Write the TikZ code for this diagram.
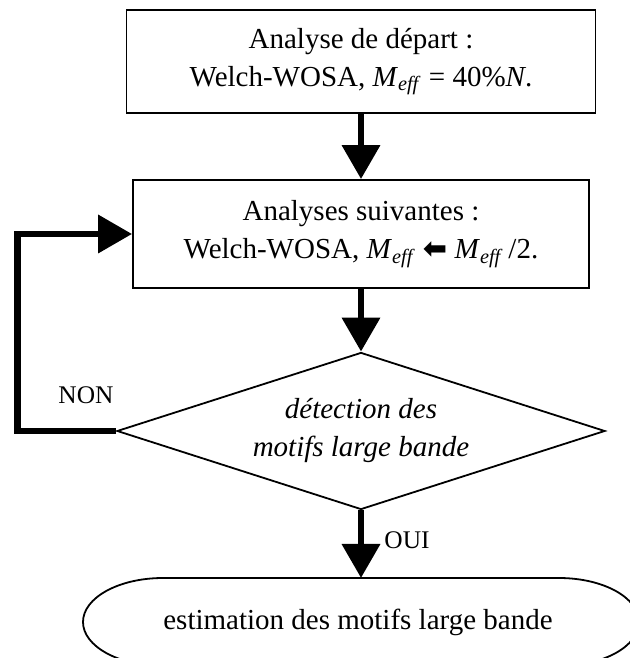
\documentclass[tikz,border=0pt]{standalone}
\usepackage{fontspec}
\setmainfont{Liberation Serif}
\newfontfamily\arrowfont{DejaVu Sans}
\usepackage{tikz}
\usetikzlibrary{arrows.meta,shapes.geometric}
\newcommand{\Meff}{\textit{M}\textsubscript{\textit{eff}}}

\begin{document}
\begin{tikzpicture}[x=0.5pt, y=0.5pt, >={Triangle[length=17pt,width=18.5pt]},
    txt/.style={font=\fontsize{14.5}{19}\selectfont, align=center},
    boite/.style={txt, draw, line width=0.9pt, inner sep=0pt},
    fleche/.style={->, line width=3.4pt},
    etiq/.style={font=\fontsize{12.7}{15}\selectfont}]
  \clip (0,0) rectangle (630,658);
  \node[boite, minimum width=234.5pt, minimum height=51.5pt] (depart) at (361,596.5)
        {Analyse de départ :\\ Welch-WOSA, \Meff{} = 40\%\textit{N}.};
  \node[boite, minimum width=228pt, minimum height=54pt] (suivante) at (361,424)
        {Analyses suivantes :\\ Welch-WOSA, \Meff{} {\arrowfont\bfseries ⬅} \Meff\,/2.};
  \node[txt, draw, diamond, aspect=3.1, line width=0.9pt, inner sep=0pt,
        minimum width=244pt, minimum height=78.5pt,
        font=\fontsize{14.5}{19}\selectfont\itshape] (detect) at (361,227)
        {détection des\\ motifs large bande};
  \node[txt, minimum width=198pt, minimum height=44pt, inner sep=0pt, outer sep=0pt]
        (estim) at (358,36) {estimation des motifs large bande};
  \draw[line width=0.9pt] ([xshift=1.5pt]estim.north west) -- ([xshift=1.5pt]estim.north east)
        arc[start angle=90, end angle=-90, x radius=40pt, y radius=22pt]
        -- ([xshift=1.5pt]estim.south west)
        arc[start angle=270, end angle=90, x radius=40pt, y radius=22pt] -- cycle;
  % connecteurs
  \draw[fleche] (depart.south) -- (suivante.north);
  \draw[fleche] (suivante.south) -- (detect.north);
  \draw[fleche] (detect.south) -- ([xshift=1.5pt]estim.north);
  \draw[fleche] (detect.west) -- ++(-99,0) |- (suivante.west);
  \node[etiq] (non) at (86,263) {NON};
  \node[etiq] (oui) at (407,118) {OUI};
\end{tikzpicture}
\end{document}
